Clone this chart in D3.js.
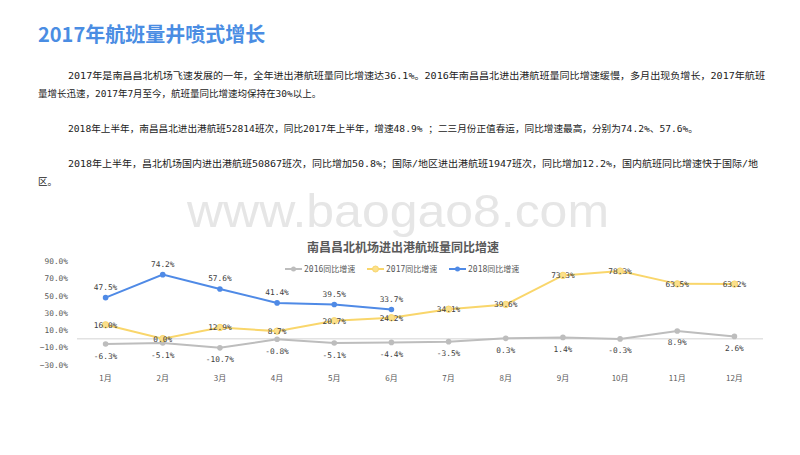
<!DOCTYPE html>
<html><head><meta charset="utf-8">
<script src="https://cdn.jsdelivr.net/npm/d3@7"></script>
<style>
html,body{margin:0;padding:0;background:#fff;}
svg{display:block;}
</style></head>
<body>
<svg id="c" width="800" height="455"></svg>
<script>
const months = ["1月","2月","3月","4月","5月","6月","7月","8月","9月","10月","11月","12月"];
const s2016 = [-6.3,-5.1,-10.7,-0.8,-5.1,-4.4,-3.5,0.3,1.4,-0.3,8.9,2.6];
const s2017 = [16.0,0.0,12.9,8.7,20.7,24.2,34.1,39.6,73.3,78.3,63.5,63.2];
const s2018 = [47.5,74.2,57.6,41.4,39.5,33.7];
const seriesNames = ["2016同比增速","2017同比增速","2018同比增速"];
const yTicks = [90,70,50,30,10,-10,-30];
const heading = "2017年航班量井喷式增长";
const chartTitle = "南昌昌北机场进出港航班量同比增速";
const paragraphs = [
  "2017年是南昌昌北机场飞速发展的一年，全年进出港航班量同比增速达36.1%。2016年南昌昌北进出港航班量同比增速缓慢，多月出现负增长，2017年航班",
  "量增长迅速，2017年7月至今，航班量同比增速均保持在30%以上。",
  "2018年上半年，南昌昌北进出港航班52814班次，同比2017年上半年，增速48.9% ；二三月份正值春运，同比增速最高，分别为74.2%、57.6%。",
  "2018年上半年，昌北机场国内进出港航班50867班次，同比增加50.8%；国际/地区进出港航班1947班次，同比增加12.2%，国内航班同比增速快于国际/地",
  "区。"
];
const watermark = "www.baogao8.com";

const svg = d3.select("#c");
const mono = "'DejaVu Sans Mono','Noto Sans CJK SC',monospace";
const cjk = "'Noto Sans CJK SC','Noto Sans',sans-serif";

// heading
svg.append("text").attr("x",38).attr("y",42).attr("font-family",cjk)
  .attr("font-size",20).attr("font-weight","bold").attr("fill","#4a8de3").text(heading);

// paragraphs
const pLayout = [
  {x:68,y:79,w:697},{x:38,y:97,w:null},{x:68,y:132,w:630},{x:68,y:167,w:690},{x:38,y:185,w:null}
];
paragraphs.forEach((p,i)=>{
  const t = svg.append("text").attr("x",pLayout[i].x).attr("y",pLayout[i].y)
    .attr("font-family",mono).attr("font-size",9.5).attr("fill","#222").text(p);
  if(pLayout[i].w) t.attr("textLength",pLayout[i].w).attr("lengthAdjust","spacingAndGlyphs");
});

// watermark
svg.append("text").attr("x",187).attr("y",227).attr("font-family","'Liberation Sans',Arial,sans-serif")
  .attr("font-size",47).attr("fill","#e6e6e6").attr("textLength",422).attr("lengthAdjust","spacingAndGlyphs").text(watermark);

// chart
const x = d3.scaleBand().domain(months).range([77,763]);
const cx = m => x(m) + x.bandwidth()/2;
const y = d3.scaleLinear().domain([-30,90]).range([364.5,261]);

svg.append("text").attr("x",403).attr("y",251.5).attr("text-anchor","middle").attr("font-family",cjk)
  .attr("font-size",12).attr("font-weight","bold").attr("fill","#595959").text(chartTitle);

// y axis
const yAxis = d3.axisLeft(y).tickValues(yTicks).tickSize(0).tickFormat(d=>d3.format(".1f")(d)+"%");
const gy = svg.append("g").attr("transform","translate(71,0)").call(yAxis);
gy.select(".domain").remove();
gy.selectAll("text").attr("font-family",mono).attr("font-size",7.8).attr("fill","#595959").attr("dx",0);

// x axis
const xAxis = d3.axisBottom(x).tickSize(0);
const gx = svg.append("g").attr("transform","translate(0,372)").call(xAxis);
gx.select(".domain").remove();
gx.selectAll("text").attr("font-family",cjk).attr("font-size",8).attr("fill","#595959");

// zero line
svg.append("line").attr("x1",77).attr("x2",763).attr("y1",y(0)).attr("y2",y(0))
  .attr("stroke","#e2e2e2").attr("stroke-width",1.5);

const colors = ["#bdbdbd","#f9d66b","#4f8ae6"];
const data = [s2016,s2017,s2018];
const line = d3.line().x((d,i)=>cx(months[i])).y(d=>y(d));

data.forEach((s,k)=>{
  svg.append("path").datum(s).attr("d",line).attr("fill","none").attr("stroke",colors[k]).attr("stroke-width",2);
  svg.selectAll(null).data(s).enter().append("circle")
    .attr("cx",(d,i)=>cx(months[i])).attr("cy",d=>y(d)).attr("r",k===1?3.2:2.8)
    .attr("fill",k===1?"#fbe08c":colors[k]).attr("stroke",colors[k]).attr("stroke-width",k===1?1:0);
});

// labels
const lab = (s,dy)=> s.forEach((d,i)=>{
  svg.append("text").attr("x",cx(months[i])).attr("y",y(d)+dy).attr("text-anchor","middle")
    .attr("font-family",mono).attr("font-size",7.8).attr("fill","#404040").text(d.toFixed(1)+"%");
});
lab(s2016,14.5);
lab(s2017,3);
lab(s2018,-7.5);

// legend
const legX = [285,367,449];
seriesNames.forEach((n,k)=>{
  const g = svg.append("g").attr("transform",`translate(${legX[k]},269)`);
  g.append("line").attr("x1",0).attr("x2",17).attr("stroke",colors[k]).attr("stroke-width",2);
  g.append("circle").attr("cx",8.5).attr("r",k===1?3:2.5).attr("fill",k===1?"#fbe08c":colors[k]).attr("stroke",colors[k]).attr("stroke-width",k===1?1:0);
  g.append("text").attr("x",19).attr("y",3).attr("font-family",mono).attr("font-size",8).attr("fill","#595959").text(n);
});
</script>
</body></html>
